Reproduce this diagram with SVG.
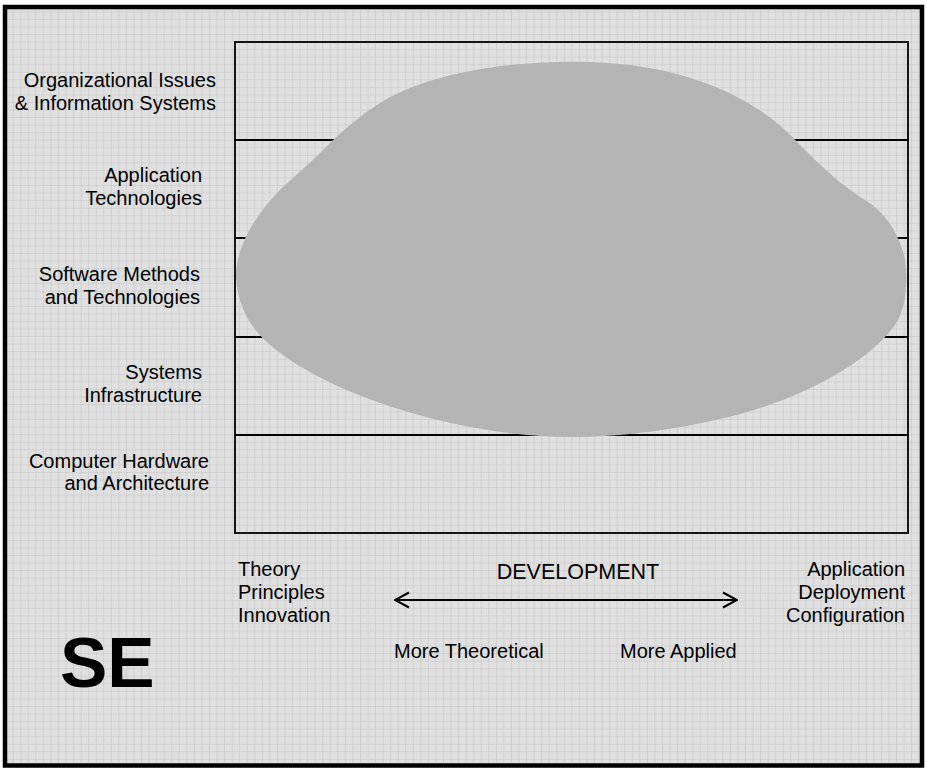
<svg xmlns="http://www.w3.org/2000/svg" width="927" height="771" viewBox="0 0 927 771">
<defs>
<pattern id="grid" x="5.15" y="3.85" width="7.55" height="7.55" patternUnits="userSpaceOnUse">
<rect width="7.55" height="7.55" fill="#e0e0e0"/>
<path d="M0 0H7.55M0 0V7.55" stroke="#c2c2c2" stroke-width="1" fill="none"/>
</pattern>
<marker id="chev" viewBox="0 0 16 18" refX="15" refY="9" markerWidth="16" markerHeight="18" markerUnits="userSpaceOnUse" orient="auto-start-reverse">
<path d="M1 1.5L15 9L1 16.5" fill="none" stroke="#000" stroke-width="2"/>
</marker>
<style>
text{font-family:"Liberation Sans",Arial,sans-serif;font-size:20px;fill:#000}
.lbl{text-anchor:end}
.row{fill:none;stroke:#000;stroke-width:1.8}
</style>
</defs>
<rect x="0" y="0" width="927" height="771" fill="#fff"/>
<rect x="5" y="7" width="917" height="758.5" fill="url(#grid)" stroke="#000" stroke-width="4.5"/>
<g id="rows">
<line class="row" x1="235" y1="140" x2="908" y2="140"/>
<line class="row" x1="235" y1="238" x2="908" y2="238"/>
<line class="row" x1="235" y1="337" x2="908" y2="337"/>
<line class="row" x1="235" y1="435" x2="908" y2="435"/>
</g>
<g id="se-blob">
<path d="M236,277 C238,305 248,325 268,343 C300,372 360,400 430,418 C480,431 530,437 570,437 C620,437 680,430 740,414 C810,395 870,360 895,325 C905,310 907,290 906,270 C905,245 890,215 865,200 C845,188 825,170 800,145 C760,100 690,65 590,62 C500,60 430,75 385,100 C355,118 335,138 315,158 C300,172 288,182 278,192 C250,222 236,250 236,277 Z" fill="#b4b4b4"/>
</g>
<rect class="row" x="235" y="42" width="673" height="491"/>
<g id="row-org"><text class="lbl" x="216" y="87">Organizational Issues</text><text class="lbl" x="216" y="110">&amp; Information Systems</text></g>
<g id="row-app"><text class="lbl" x="202" y="182">Application</text><text class="lbl" x="202" y="205">Technologies</text></g>
<g id="row-sw"><text class="lbl" x="200" y="281">Software Methods</text><text class="lbl" x="200" y="304">and Technologies</text></g>
<g id="row-sys"><text class="lbl" x="202" y="379">Systems</text><text class="lbl" x="202" y="402">Infrastructure</text></g>
<g id="row-hw"><text class="lbl" x="209" y="468">Computer Hardware</text><text class="lbl" x="209" y="490">and Architecture</text></g>
<g id="theory"><text x="238" y="576">Theory</text><text x="238" y="599">Principles</text><text x="238" y="622">Innovation</text></g>
<g id="applied"><text class="lbl" x="905" y="576">Application</text><text class="lbl" x="905" y="599">Deployment</text><text class="lbl" x="905" y="622">Configuration</text></g>
<text x="578" y="579" text-anchor="middle" style="font-size:21.5px">DEVELOPMENT</text>
<g id="connectors">
<line x1="395" y1="600" x2="737" y2="600" stroke="#000" stroke-width="2" marker-start="url(#chev)" marker-end="url(#chev)"/>
</g>
<text x="394" y="658">More Theoretical</text>
<text x="620" y="658">More Applied</text>
<text x="60" y="687" style="font-size:71px;font-weight:bold">SE</text>
</svg>
